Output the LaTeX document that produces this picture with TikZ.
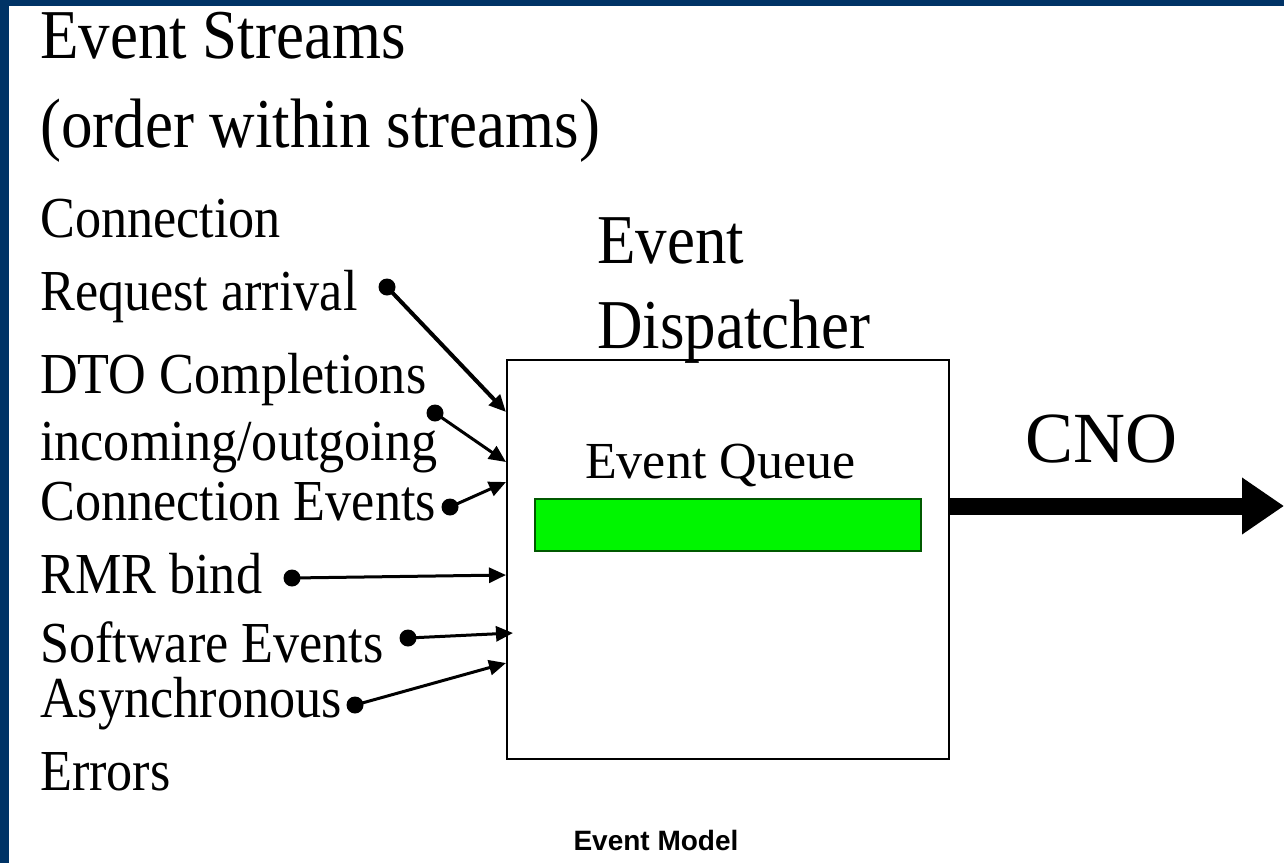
\documentclass[tikz,border=0pt]{standalone}
\usepackage{fontspec}
\setmainfont{Liberation Serif}
\newfontfamily\titlefont[FakeStretch=0.9]{Liberation Serif}
\newfontfamily\capfont{Liberation Sans}
\usepackage{xcolor}
\usetikzlibrary{arrows.meta}
\definecolor{framebl}{RGB}{0,51,102}
\definecolor{queuegreen}{RGB}{0,245,0}

\begin{document}
\begin{tikzpicture}[x=1pt,y=-1pt,
    lbl/.style={anchor=base west,inner sep=0pt,font=\titlefont\fontsize{58}{58}\selectfont},
    big/.style={anchor=base west,inner sep=0pt,font=\titlefont\fontsize{70}{70}\selectfont},
    dot/.style={circle,fill=black,inner sep=0pt,minimum size=17pt},
    feed/.style={-{Triangle[length=17pt,width=15pt]},line width=3pt}]
        \useasboundingbox (0,0) rectangle (1284,863);
        \fill[framebl] (0,0) rectangle (1284,6);
        \fill[framebl] (0,0) rectangle (9,863);
        % titles
        \node[big] (streams) at (40,58) {Event Streams};
        \node[big] (order) at (40,147) {(order within streams)};
        \node[big] (evt) at (597,263) {Event};
        \node[big] (disp) at (597,348) {Dispatcher};
        % event sources
        \node[lbl] (conn) at (40,237) {Connection};
        \node[lbl] (req) at (40,310) {Request arrival};
        \node[lbl] (dto) at (40,393) {DTO Completions};
        \node[lbl] (inout) at (40,460) {incoming/outgoing};
        \node[lbl] (connev) at (40,520) {Connection Events};
        \node[lbl] (rmr) at (40,593) {RMR bind};
        \node[lbl] (soft) at (40,662) {Software Events};
        \node[lbl] (async) at (40,717) {Asynchronous};
        \node[lbl] (err) at (40,790) {Errors};
        % dispatcher box and queue
        \node[draw,line width=2pt,minimum width=442pt,minimum height=399pt,inner sep=0pt] (dispatcher) at (728,559.5) {};
        \node[anchor=base west,inner sep=0pt,font=\fontsize{52}{52}\selectfont] (qlabel) at (585,478) {Event Queue};
        \node[draw=green!35!black,fill=queuegreen,line width=1.2pt,minimum width=386pt,minimum height=52pt,inner sep=0pt] (queue) at (728,525) {};
        \node[anchor=base west,inner sep=0pt,font=\fontsize{72}{72}\selectfont] (cno) at (1025,462) {CNO};
        \node[anchor=base,inner sep=0pt,font=\capfont\bfseries\fontsize{28}{28}\selectfont] (caption) at (656,850) {Event Model};
        % dots and entry points
        \node[dot] (d1) at (387,287) {};
        \node[dot] (d2) at (435,413) {};
        \node[dot] (d3) at (450,507) {};
        \node[dot] (d4) at (292,578) {};
        \node[dot] (d5) at (408,638) {};
        \node[dot] (d6) at (355,705) {};
        \coordinate (t1) at (506,412);
        \coordinate (t2) at (506,462);
        \coordinate (t3) at (506,482);
        \coordinate (t4) at (506,575);
        \coordinate (t5) at (513,633);
        \coordinate (t6) at (506,663);
        \draw[feed,line width=4pt] (d1.center) -- (t1);
        \foreach \i in {2,...,6}
            \draw[feed] (d\i.center) -- (t\i);
        % output
        \coordinate (cnoin) at (948,506);
        \coordinate (cnoout) at (1284,506);
        \draw[-{Triangle[length=42pt,width=54pt]},line width=17pt] (cnoin) -- (cnoout);
\end{tikzpicture}
\end{document}
